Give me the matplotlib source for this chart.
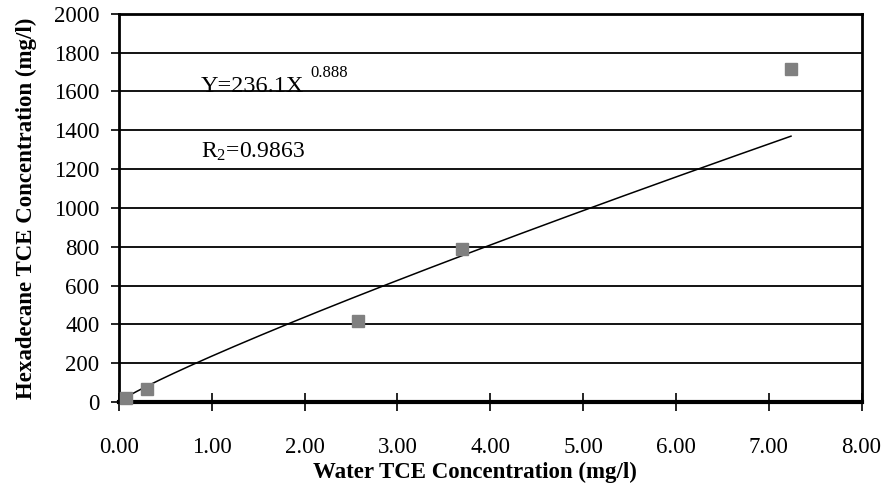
import matplotlib
matplotlib.use("Agg")
import matplotlib.pyplot as plt
import numpy as np

water = [0.08, 0.30, 2.57, 3.70, 7.24]
hexadecane = [20, 67, 415, 787, 1715]
coef_a = 236.1
coef_b = 0.888
xticks = [0, 1, 2, 3, 4, 5, 6, 7, 8]
yticks = [0, 200, 400, 600, 800, 1000, 1200, 1400, 1600, 1800, 2000]

plt.rcParams['font.family'] = ['Liberation Serif', 'DejaVu Serif']
plt.rcParams['mathtext.fontset'] = 'custom'
plt.rcParams['mathtext.rm'] = 'Liberation Serif'
plt.rcParams['mathtext.it'] = 'Liberation Serif'

fig = plt.figure(figsize=(8.84, 4.92), dpi=100)
ax = fig.add_axes([0.1346, 0.183, 0.840, 0.789])

ax.set_xlim(0, 8)
ax.set_ylim(0, 2000)
ax.set_yticks(yticks)
ax.set_xticks(xticks)
ax.set_xticklabels([f"{v:.2f}" for v in xticks], fontsize=16.5)
ax.set_yticklabels([str(v) for v in yticks], fontsize=16.5)
ax.grid(axis='y', color='black', linewidth=1.3)
ax.set_axisbelow(True)

xf = np.linspace(0.05, max(water), 200)
ax.plot(xf, coef_a * xf ** coef_b, color='black', linewidth=1.1, zorder=3)
ax.plot(water, hexadecane, linestyle='none', marker='s', markersize=9,
        color='#808080', zorder=4, clip_on=False)

for s in ['top', 'right', 'left']:
    ax.spines[s].set_linewidth(2)
ax.spines['bottom'].set_linewidth(3)
ax.tick_params(axis='x', direction='inout', length=13, width=1.2, pad=19)
ax.tick_params(axis='y', direction='out', length=6, width=1.2, pad=8)

ax.set_xlabel("Water TCE Concentration (mg/l)", fontsize=16.5, fontweight='bold')
ax.xaxis.set_label_coords(0.48, -0.155)
ax.set_ylabel("Hexadecane TCE Concentration (mg/l)", fontsize=16.5, fontweight='bold')
ax.yaxis.set_label_coords(-0.110, 0.5)

ax.text(0.88, 1598, "Y=236.1X", fontsize=17.5, va='baseline', ha='left')
ax.text(2.06, 1675, "0.888", fontsize=12, va='baseline', ha='left')
ax.text(0.88, 1258, r"R$_2$=0.9863", fontsize=17, va='baseline', ha='left')

fig.savefig("out.png", dpi=100)
